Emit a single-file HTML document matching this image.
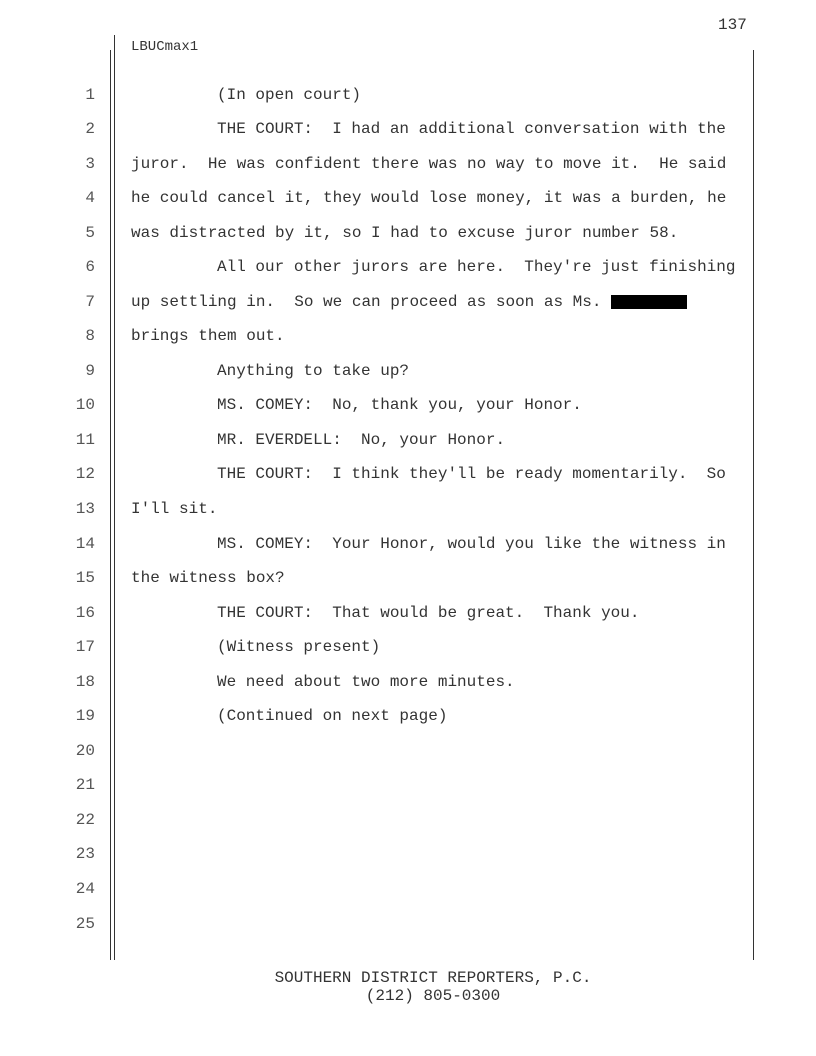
<!DOCTYPE html>
<html><head><meta charset="utf-8"><style>
body{margin:0;width:816px;height:1056px;background:#fff;position:relative;font-family:"Liberation Mono",monospace;font-size:16px;color:#333;overflow:hidden}
.a{position:absolute;white-space:pre;line-height:18px}
.n{position:absolute;width:40px;left:55px;text-align:right;line-height:18px;color:#555}
.v{position:absolute;background:#333;width:1px}
</style></head><body>
<div class="a" style="left:718px;top:16px">137</div>
<div class="a" style="left:131px;top:38px;font-size:14px">LBUCmax1</div>
<div class="v" style="left:110px;top:50px;height:910px"></div>
<div class="v" style="left:114px;top:35px;height:925px"></div>
<div class="v" style="left:753px;top:50px;height:910px"></div>
<div class="n" style="top:86px">1</div><div class="a" style="left:217px;top:86px">(In open court)</div>
<div class="n" style="top:120px">2</div><div class="a" style="left:217px;top:120px">THE COURT:  I had an additional conversation with the</div>
<div class="n" style="top:155px">3</div><div class="a" style="left:131px;top:155px">juror.  He was confident there was no way to move it.  He said</div>
<div class="n" style="top:189px">4</div><div class="a" style="left:131px;top:189px">he could cancel it, they would lose money, it was a burden, he</div>
<div class="n" style="top:224px">5</div><div class="a" style="left:131px;top:224px">was distracted by it, so I had to excuse juror number 58.</div>
<div class="n" style="top:258px">6</div><div class="a" style="left:217px;top:258px">All our other jurors are here.  They're just finishing</div>
<div class="n" style="top:293px">7</div><div class="a" style="left:131px;top:293px">up settling in.  So we can proceed as soon as Ms.</div>
<div style="position:absolute;left:611px;top:295px;width:76px;height:14px;background:#000"></div>
<div class="n" style="top:327px">8</div><div class="a" style="left:131px;top:327px">brings them out.</div>
<div class="n" style="top:362px">9</div><div class="a" style="left:217px;top:362px">Anything to take up?</div>
<div class="n" style="top:396px">10</div><div class="a" style="left:217px;top:396px">MS. COMEY:  No, thank you, your Honor.</div>
<div class="n" style="top:431px">11</div><div class="a" style="left:217px;top:431px">MR. EVERDELL:  No, your Honor.</div>
<div class="n" style="top:465px">12</div><div class="a" style="left:217px;top:465px">THE COURT:  I think they'll be ready momentarily.  So</div>
<div class="n" style="top:500px">13</div><div class="a" style="left:131px;top:500px">I'll sit.</div>
<div class="n" style="top:535px">14</div><div class="a" style="left:217px;top:535px">MS. COMEY:  Your Honor, would you like the witness in</div>
<div class="n" style="top:569px">15</div><div class="a" style="left:131px;top:569px">the witness box?</div>
<div class="n" style="top:604px">16</div><div class="a" style="left:217px;top:604px">THE COURT:  That would be great.  Thank you.</div>
<div class="n" style="top:638px">17</div><div class="a" style="left:217px;top:638px">(Witness present)</div>
<div class="n" style="top:673px">18</div><div class="a" style="left:217px;top:673px">We need about two more minutes.</div>
<div class="n" style="top:707px">19</div><div class="a" style="left:217px;top:707px">(Continued on next page)</div>
<div class="n" style="top:742px">20</div>
<div class="n" style="top:776px">21</div>
<div class="n" style="top:811px">22</div>
<div class="n" style="top:845px">23</div>
<div class="n" style="top:880px">24</div>
<div class="n" style="top:915px">25</div>
<div class="a" style="left:0;width:866px;text-align:center;top:969px">SOUTHERN DISTRICT REPORTERS, P.C.</div>
<div class="a" style="left:0;width:866px;text-align:center;top:987px">(212) 805-0300</div>
</body></html>
